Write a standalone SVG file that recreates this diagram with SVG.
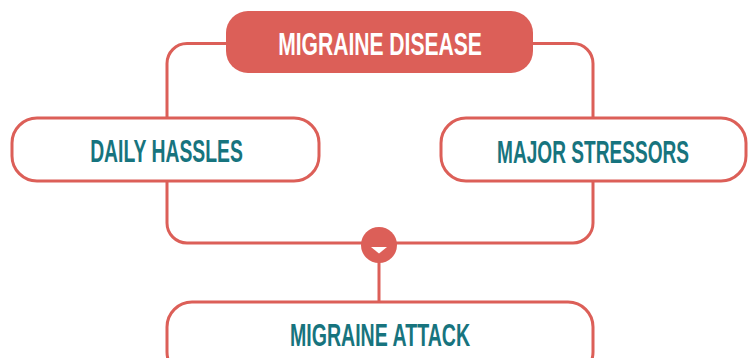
<svg xmlns="http://www.w3.org/2000/svg" width="754" height="358" viewBox="0 0 754 358">
<style>
.box{fill:#ffffff;stroke:#dc5f58;stroke-width:3}
.head{fill:#dc5f58}
.lbl{font-family:"Liberation Sans",Arial,sans-serif;font-weight:bold;font-size:32px;fill:#17747e;text-anchor:middle}
.hl{fill:#ffffff}
.conn{fill:none;stroke:#dc5f58;stroke-width:3}
</style>
<rect width="754" height="358" fill="#ffffff"/>
<g id="connectors">
<path class="conn" d="M226,43.5 H187 A20,20 0 0 0 167,63.5 V118"/>
<path class="conn" d="M533,43.5 H573 A20,20 0 0 1 593,63.5 V118"/>
<path class="conn" d="M167,181 V223 A20,20 0 0 0 187,243 H573 A20,20 0 0 0 593,223 V181"/>
<path class="conn" d="M379,260 V302"/>
<circle cx="379" cy="245" r="18" fill="#dc5f58"/>
<polygon points="371,247 387,247 379,253.5" fill="#ffffff"/>
</g>
<g id="migraine-disease">
<rect class="head" x="226" y="11" width="307" height="62" rx="22"/>
<text class="lbl hl" transform="translate(380,55) scale(0.659,1)">MIGRAINE DISEASE</text>
</g>
<g id="daily-hassles">
<rect class="box" x="12" y="118" width="307" height="63" rx="25"/>
<text class="lbl" transform="translate(166.5,162) scale(0.605,1)">DAILY HASSLES</text>
</g>
<g id="major-stressors">
<rect class="box" x="441" y="118" width="305" height="63" rx="25"/>
<text class="lbl" transform="translate(593,163) scale(0.597,1)">MAJOR STRESSORS</text>
</g>
<g id="migraine-attack">
<rect class="box" x="167" y="302" width="426" height="75" rx="25"/>
<text class="lbl" transform="translate(380,346) scale(0.6125,1)">MIGRAINE ATTACK</text>
</g>
</svg>
